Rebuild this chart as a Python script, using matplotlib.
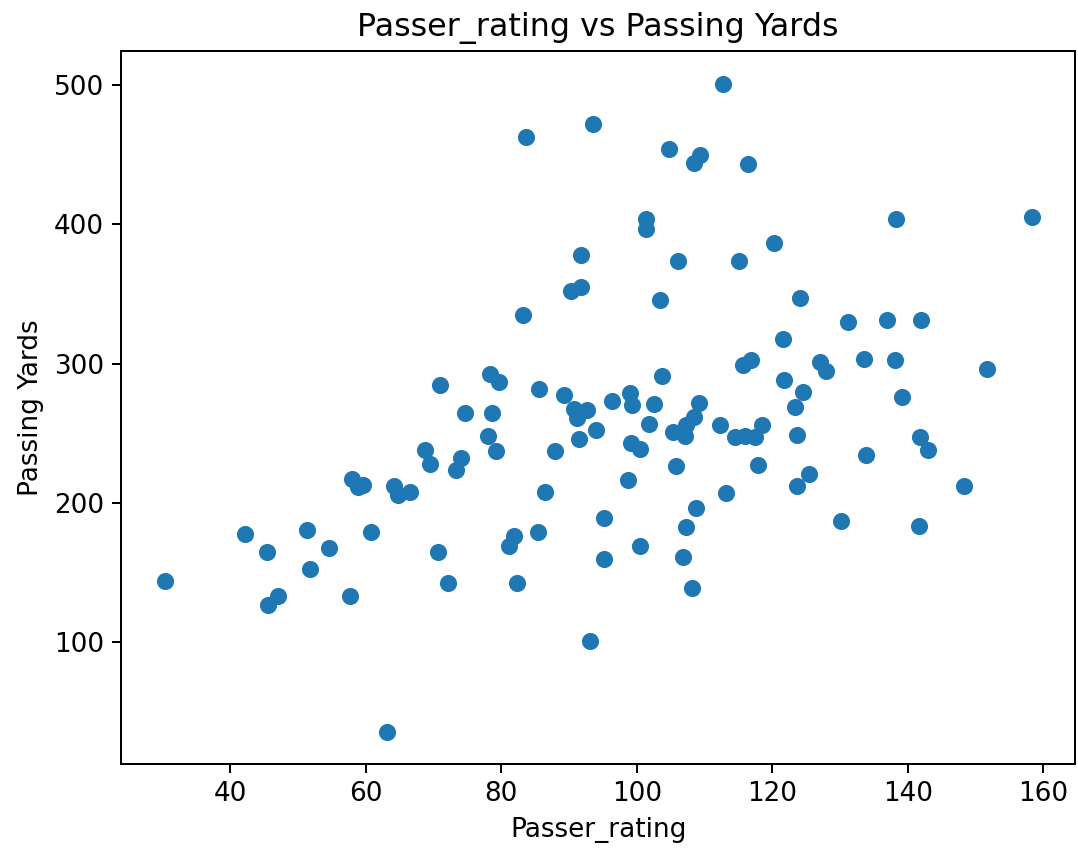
import matplotlib
matplotlib.use("Agg")
import matplotlib.pyplot as plt

passer_rating = [
    30.3, 42.2, 45.4, 45.6, 47.1, 51.3, 51.7, 54.5, 57.6, 57.9,
    58.8, 59.6, 60.7, 63.1, 64.1, 64.7, 66.5, 68.7, 69.5, 70.6,
    72.1, 73.3, 74.0, 78.0, 79.2, 81.2, 81.9, 82.3, 85.4, 86.4,
    83.7, 83.2, 70.9, 78.3, 79.7, 85.6, 74.7, 78.6,
    89.2, 90.7, 91.1, 92.6, 93.9, 91.4, 87.9, 96.4, 99.0, 99.3,
    102.6, 103.7, 101.8, 99.2, 100.5, 98.7, 105.8, 105.3, 107.1, 107.3,
    108.5, 109.2, 108.7, 95.2, 95.2, 93.1, 100.5, 107.3, 106.8, 108.2,
    113.1,
    112.7, 93.5, 104.8, 109.3, 108.5, 116.4, 101.4, 101.4, 138.3, 158.3,
    120.2, 91.8, 106.0, 115.1, 90.3, 91.8, 103.4, 124.1, 131.2, 136.9,
    142.0, 121.6,
    115.7, 116.9, 121.7, 127.0, 127.9, 133.5, 138.1, 139.2, 151.7, 124.5,
    123.4, 112.3, 114.5, 116.0, 117.4, 118.5, 123.6, 117.9, 125.4, 123.6,
    133.8, 141.8, 143.0, 130.1, 141.7, 148.3,
]

passing_yards = [
    144, 178, 165, 127, 133, 180.5, 152.5, 168, 133, 217,
    211.5, 213, 179, 36, 212.5, 205.5, 208, 238, 228, 165,
    143, 224, 232.5, 248.5, 237.5, 169, 176.5, 143, 179.5, 208.3,
    463, 335, 285, 293, 287, 282, 265, 265,
    277.7, 267.5, 260.8, 267, 252.7, 245.8, 237.5, 273.5, 279.2, 270.3,
    271, 291.4, 257, 243, 239, 216.5, 226.6, 251.3, 248.5, 256,
    262, 272.2, 196.5, 189, 160, 101, 169, 183, 161, 139,
    207,
    501, 472, 454.5, 450, 444, 443.5, 404, 396.5, 404, 405,
    387, 378, 374, 374, 352, 355, 345.5, 347, 330, 331.5,
    331.5, 318,
    299.3, 302.4, 288.5, 301, 294.5, 303.6, 302.4, 276, 296, 279.4,
    269, 255.7, 247.7, 248.5, 247.5, 255.8, 248.6, 227.5, 221.2, 212.5,
    234.7, 247.3, 238, 187.5, 183.5, 212.5,
]

title = "Passer_rating vs Passing Yards"
x_label = "Passer_rating"
y_label = "Passing Yards"

plt.rcParams["font.size"] = 10.5

fig = plt.figure(figsize=(1078 / 180, 854 / 180), dpi=180)
ax = fig.add_axes([0.1125, 0.1054, 0.8849, 0.8345])
ax.scatter(passer_rating, passing_yards, color="#1f77b4", s=34)
ax.set_title(title, fontsize=12.7)
ax.set_xlabel(x_label)
ax.set_ylabel(y_label)
fig.savefig("out.png", dpi=180)
